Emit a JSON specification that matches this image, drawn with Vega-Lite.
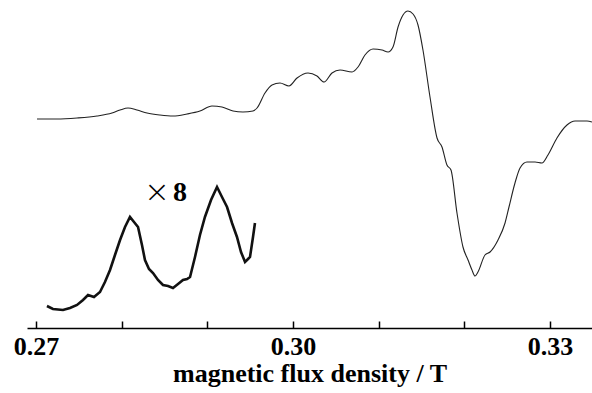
{
  "$schema": "https://vega.github.io/schema/vega-lite/v6.json",
  "width": 565,
  "height": 328,
  "autosize": {"type": "none"},
  "padding": {"left": 27, "top": 0, "right": 0, "bottom": 65},
  "background": "white",
  "config": {"view": {"stroke": null}},
  "datasets": {
    "main": [
      {"B": 0.27012, "I": 208}, {"B": 0.27245, "I": 208}, {"B": 0.27479, "I": 209},
      {"B": 0.27712, "I": 211}, {"B": 0.27887, "I": 214}, {"B": 0.27981, "I": 217},
      {"B": 0.28074, "I": 219}, {"B": 0.28179, "I": 217}, {"B": 0.28296, "I": 214},
      {"B": 0.28447, "I": 212}, {"B": 0.28599, "I": 211}, {"B": 0.28763, "I": 213},
      {"B": 0.28914, "I": 216}, {"B": 0.29054, "I": 221}, {"B": 0.29171, "I": 220},
      {"B": 0.29300, "I": 216}, {"B": 0.29416, "I": 215}, {"B": 0.29533, "I": 216},
      {"B": 0.29580, "I": 219}, {"B": 0.29673, "I": 234}, {"B": 0.29755, "I": 242},
      {"B": 0.29848, "I": 244}, {"B": 0.29953, "I": 241}, {"B": 0.30047, "I": 249},
      {"B": 0.30175, "I": 254}, {"B": 0.30280, "I": 251}, {"B": 0.30362, "I": 245},
      {"B": 0.30455, "I": 254}, {"B": 0.30549, "I": 257}, {"B": 0.30689, "I": 255},
      {"B": 0.30759, "I": 260}, {"B": 0.30840, "I": 272}, {"B": 0.30934, "I": 278},
      {"B": 0.31039, "I": 277}, {"B": 0.31109, "I": 275}, {"B": 0.31167, "I": 280},
      {"B": 0.31226, "I": 300}, {"B": 0.31284, "I": 312}, {"B": 0.31342, "I": 316},
      {"B": 0.31401, "I": 313}, {"B": 0.31459, "I": 302}, {"B": 0.31517, "I": 277},
      {"B": 0.31599, "I": 230}, {"B": 0.31681, "I": 189}, {"B": 0.31739, "I": 180},
      {"B": 0.31797, "I": 162}, {"B": 0.31844, "I": 157}, {"B": 0.31914, "I": 114},
      {"B": 0.31984, "I": 80}, {"B": 0.32043, "I": 67}, {"B": 0.32089, "I": 57},
      {"B": 0.32124, "I": 51}, {"B": 0.32159, "I": 55}, {"B": 0.32241, "I": 72},
      {"B": 0.32300, "I": 75}, {"B": 0.32393, "I": 87}, {"B": 0.32475, "I": 104},
      {"B": 0.32521, "I": 120}, {"B": 0.32591, "I": 144}, {"B": 0.32650, "I": 159},
      {"B": 0.32731, "I": 165}, {"B": 0.32825, "I": 165}, {"B": 0.32906, "I": 164},
      {"B": 0.32976, "I": 172}, {"B": 0.33081, "I": 189}, {"B": 0.33198, "I": 202},
      {"B": 0.33292, "I": 206}, {"B": 0.33432, "I": 206}, {"B": 0.33490, "I": 205}
    ],
    "inset": [
      {"B": 0.27128, "I": 21}, {"B": 0.27198, "I": 18}, {"B": 0.27315, "I": 17},
      {"B": 0.27397, "I": 19}, {"B": 0.27479, "I": 22}, {"B": 0.27549, "I": 27},
      {"B": 0.27607, "I": 32}, {"B": 0.27677, "I": 30}, {"B": 0.27747, "I": 35},
      {"B": 0.27805, "I": 45}, {"B": 0.27864, "I": 57}, {"B": 0.27922, "I": 72},
      {"B": 0.27981, "I": 87}, {"B": 0.28039, "I": 100}, {"B": 0.28097, "I": 110},
      {"B": 0.28144, "I": 105}, {"B": 0.28191, "I": 100}, {"B": 0.28237, "I": 82},
      {"B": 0.28272, "I": 67}, {"B": 0.28319, "I": 58}, {"B": 0.28366, "I": 54},
      {"B": 0.28424, "I": 47}, {"B": 0.28482, "I": 42}, {"B": 0.28541, "I": 41},
      {"B": 0.28599, "I": 39}, {"B": 0.28658, "I": 43}, {"B": 0.28716, "I": 47},
      {"B": 0.28763, "I": 48}, {"B": 0.28798, "I": 50}, {"B": 0.28856, "I": 70},
      {"B": 0.28914, "I": 92}, {"B": 0.28972, "I": 110}, {"B": 0.29043, "I": 127},
      {"B": 0.29113, "I": 140}, {"B": 0.29171, "I": 130}, {"B": 0.29230, "I": 120},
      {"B": 0.29288, "I": 104}, {"B": 0.29346, "I": 90}, {"B": 0.29393, "I": 75},
      {"B": 0.29440, "I": 65}, {"B": 0.29475, "I": 68}, {"B": 0.29498, "I": 70},
      {"B": 0.29533, "I": 90}, {"B": 0.29556, "I": 104}
    ],
    "note": [{"B": 0.28553, "I": 134.5, "mult": "×", "factor": "8"}]
  },
  "encoding": {
    "x": {
      "field": "B", "type": "quantitative",
      "scale": {"domain": [0.26895, 0.33490], "nice": false, "zero": false},
      "axis": {
        "title": "magnetic flux density / T",
        "values": [0.27, 0.28, 0.29, 0.30, 0.31, 0.32, 0.33],
        "labelExpr": "round(datum.value*100) % 3 == 0 ? format(datum.value, '.2f') : ''",
        "grid": false,
        "domainColor": "black", "domainWidth": 1.5,
        "tickColor": "black", "tickWidth": 1.5, "tickSize": -7,
        "labelFont": "Liberation Serif", "labelFontWeight": "bold", "labelFontSize": 26, "labelColor": "black",
        "labelPadding": 12,
        "titleFont": "Liberation Serif", "titleFontWeight": "bold", "titleFontSize": 26, "titleColor": "black",
        "titlePadding": 1
      }
    },
    "y": {
      "field": "I", "type": "quantitative",
      "scale": {"domain": [-1, 327], "nice": false, "zero": false},
      "axis": null
    }
  },
  "layer": [
    {"data": {"name": "main"}, "mark": {"type": "line", "color": "#222", "strokeWidth": 1.1, "interpolate": "monotone"}},
    {"data": {"name": "inset"}, "mark": {"type": "line", "color": "#111", "strokeWidth": 2.6, "interpolate": "linear"}},
    {"data": {"name": "note"}, "mark": {"type": "text", "align": "right", "baseline": "middle", "dx": 1, "font": "DejaVu Sans", "fontSize": 31, "fontWeight": 200, "color": "black"}, "encoding": {"text": {"field": "mult"}}},
    {"data": {"name": "note"}, "mark": {"type": "text", "align": "left", "baseline": "middle", "dx": 4, "font": "Liberation Serif", "fontSize": 28, "fontWeight": "bold", "color": "black"}, "encoding": {"text": {"field": "factor"}}}
  ]
}
